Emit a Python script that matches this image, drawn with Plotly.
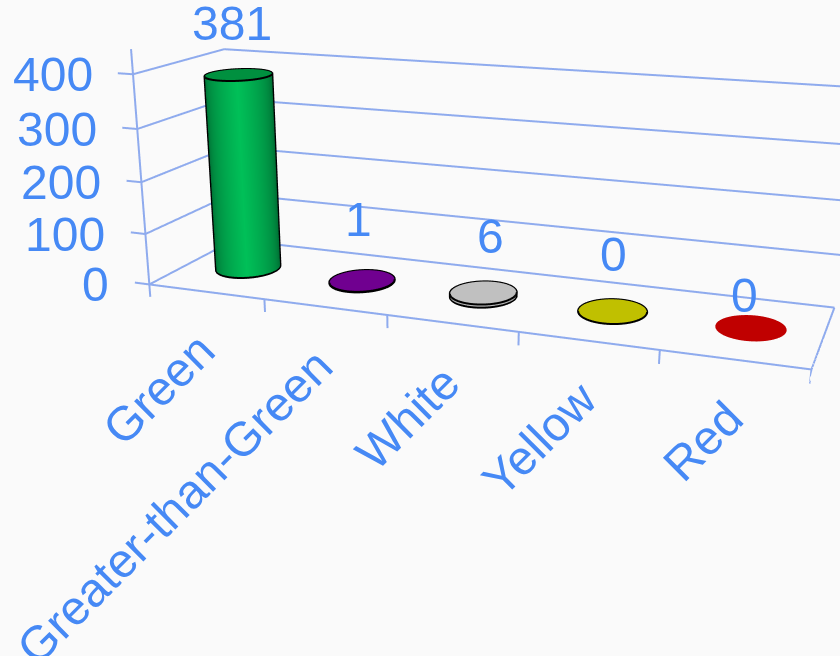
import numpy as np
import plotly.graph_objects as go

categories = ["Green", "Greater-than-Green", "White", "Yellow", "Red"]
values = [381, 1, 6, 0, 0]
value_ticks = [0, 100, 200, 300, 400]
wall_colors = [("#005c2c", "#00c058"), ("#5c007c", "#7a00a0"), ("#8e8e8e", "#c4c4c4"), ("#9c9c00", "#c4c400"), ("#a00000", "#c40000")]
cap_colors = ["#00903f", "#700090", "#c0c0c0", "#c0c000", "#c00000"]
outline_colors = ["#000000", "#000000", "#000000", "#000000", None]
TEXT = "#4689f5"
LINE = "#8fabee"

# camera and box proportions
eye = np.array([0.9591, -2.749, 0.7232])
center = np.array([-0.0438, -0.162, -0.3256])
upx = -0.0018
ax, ay, az = 1.4710, 0.3947, 0.4746
sx, sy, sz = ax / 5, ay / 1, az / 400
# the lens of the reference needs a larger canvas, shifted so the picture sits in the window
W, H, left, top = 917, 1143, -20, -217

xr, yr, zr = [-0.15, 5], [0, 1], [-35, 460]
off = np.array([(sum(xr) / 2 - 2.5) * sx, 0, (sum(zr) / 2 - 200) * sz])
eye_n, center_n = eye - off, center - off

fig = go.Figure()
lx, ly, lz = [], [], []
def seg(a, b):
    lx.extend([a[0], b[0], None]); ly.extend([a[1], b[1], None]); lz.extend([a[2], b[2], None])
for z in value_ticks:
    seg((-0.13, 0, z), (0, 0, z))
    seg((0, 0, z), (0, 1, z))
    seg((0, 1, z), (5, 1, z))
seg((0, 0, -25), (0, 0, 445))
seg((0, 0, 0), (5, 0, 0))
seg((5, 0, 0), (5, 1, 0))
for i in range(1, 6):
    seg((i, 0, 0), (i, 0, -25))
fig.add_trace(go.Scatter3d(x=lx, y=ly, z=lz, mode="lines", line=dict(color=LINE, width=4), hoverinfo="skip", showlegend=False))

RX, RY = 0.245, 0.21
t = np.linspace(0, 2 * np.pi, 121)
for i, v in enumerate(values):
    cx, cy = i + .5, .5
    Rx, Ry = RX * sx, RY * sy
    ex, ey = eye[0] - (cx - 2.5) * sx, eye[1]
    A_, B_ = ex / Rx, ey / Ry
    mid = np.arctan2(B_, A_)
    half = np.arccos(1 / np.hypot(A_, B_))
    if v > 0:
        dt = (t - mid + np.pi) % (2 * np.pi) - np.pi
        shade = np.clip(1 - np.abs(dt + 0.05) / half, 0, 1) ** .7
        fig.add_trace(go.Surface(
            x=np.array([cx + RX * np.cos(t)] * 2), y=np.array([cy + RY * np.sin(t)] * 2),
            z=np.array([np.zeros_like(t), np.full_like(t, v)]),
            surfacecolor=np.array([shade, shade]), cmin=0, cmax=1,
            colorscale=[[0, wall_colors[i][0]], [1, wall_colors[i][1]]], showscale=False, hoverinfo="skip",
            lighting=dict(ambient=1, diffuse=0, specular=0, fresnel=0, roughness=1)))
    rr = np.array([0, 1.0])
    fig.add_trace(go.Surface(
        x=cx + np.outer(rr, RX * np.cos(t)), y=cy + np.outer(rr, RY * np.sin(t)), z=np.full((2, t.size), float(v)),
        surfacecolor=np.zeros((2, t.size)), cmin=0, cmax=1,
        colorscale=[[0, cap_colors[i]], [1, cap_colors[i]]], showscale=False, hoverinfo="skip",
        lighting=dict(ambient=1, diffuse=0, specular=0, fresnel=0, roughness=1)))
    if outline_colors[i]:
        ox = list(cx + RX * 1.01 * np.cos(t)); oy = list(cy + RY * 1.01 * np.sin(t)); oz = [v] * t.size
        if v > 0:
            arc = mid + np.linspace(-half, half, 60)
            ox += [None] + list(cx + RX * 1.01 * np.cos(arc)); oy += [None] + list(cy + RY * 1.01 * np.sin(arc)); oz += [None] + [0] * 60
            for a in (mid - half, mid + half):
                ox += [None, cx + RX * 1.01 * np.cos(a), cx + RX * 1.01 * np.cos(a)]
                oy += [None, cy + RY * 1.01 * np.sin(a), cy + RY * 1.01 * np.sin(a)]
                oz += [None, 0, v]
        fig.add_trace(go.Scatter3d(x=ox, y=oy, z=oz, mode="lines", line=dict(color=outline_colors[i], width=4), hoverinfo="skip", showlegend=False))

font = dict(family="Liberation Sans, Arial, sans-serif", size=48, color=TEXT)
catfont = dict(font, size=48)
ann = []
for z in value_ticks:
    ann.append(dict(x=0, y=0, z=z, text=str(z), showarrow=False, xanchor="right", yanchor="middle", xshift=-38, font=font))
for i, c in enumerate(categories):
    ann.append(dict(x=i + .5, y=0, z=0, text=c, showarrow=False, textangle=-45, xanchor="right", yanchor="top", xshift=21, yshift=-29, font=catfont))
value_yshift = [23, 33, 28, 28, 4]
value_xshift = [-7, -4, 7, 1, -6]
for i, v in enumerate(values):
    ann.append(dict(x=i + .5, y=.5, z=v, text=str(v), showarrow=False, xanchor="center", yanchor="bottom",
                    xshift=value_xshift[i], yshift=value_yshift[i], font=font))

hidden = dict(visible=False, showspikes=False)
fig.update_layout(
    width=W, height=H, margin=dict(l=0, r=0, t=0, b=0), paper_bgcolor="#fafafa", showlegend=False,
    scene=dict(
        domain=dict(x=[0, 1], y=[0, 1]),
        xaxis=dict(range=xr, **hidden), yaxis=dict(range=yr, **hidden), zaxis=dict(range=zr, **hidden),
        aspectmode="manual", aspectratio=dict(x=sx * (xr[1] - xr[0]), y=sy, z=sz * (zr[1] - zr[0])),
        camera=dict(eye=dict(x=eye_n[0], y=eye_n[1], z=eye_n[2]), center=dict(x=center_n[0], y=center_n[1], z=center_n[2]),
                    up=dict(x=upx, y=0, z=1), projection=dict(type="perspective")),
        annotations=ann, bgcolor="#fafafa"))
post = ("document.body.style.margin='0';document.body.style.background='#fafafa';document.documentElement.style.overflow='hidden';document.body.style.overflow='hidden';"
        "var g=document.getElementById('{plot_id}');g.style.position='absolute';g.style.left='%dpx';g.style.top='%dpx';" % (left, top))
fig.write_html("out.html", post_script=post, config={"displayModeBar": False})
